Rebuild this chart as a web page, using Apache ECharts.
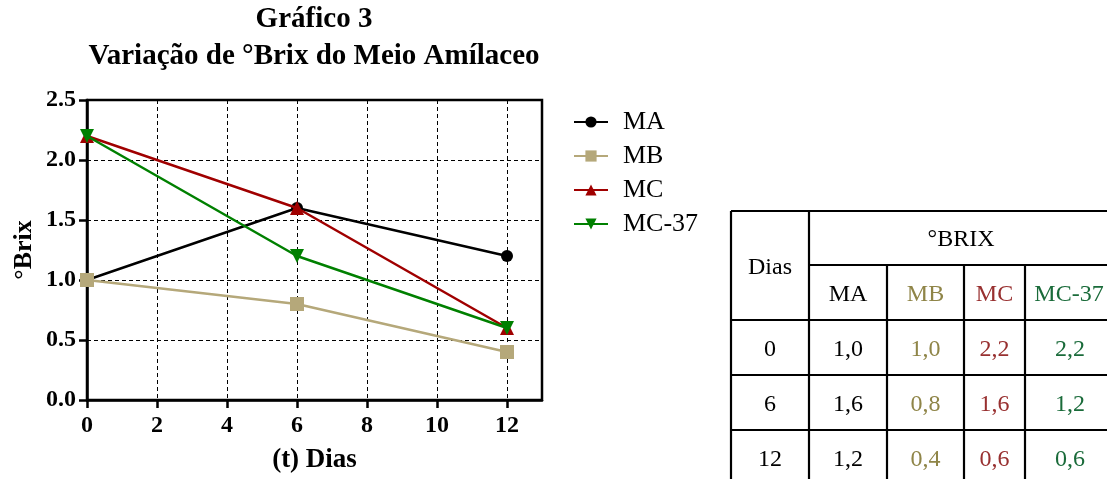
<!DOCTYPE html>
<html><head><meta charset="utf-8">
<script src="https://cdn.jsdelivr.net/npm/echarts@6/dist/echarts.min.js"></script>
<style>html,body{margin:0;padding:0;background:#fff}#c{width:1107px;height:479px}</style>
</head><body><div id="c"></div>
<script>
const dias = [0, 6, 12];
const MA = [1.0, 1.6, 1.2];
const MB = [1.0, 0.8, 0.4];
const MC = [2.2, 1.6, 0.6];
const MC37 = [2.2, 1.2, 0.6];
const seriesNames = ['MA', 'MB', 'MC', 'MC-37'];
const xTicks = [0, 2, 4, 6, 8, 10, 12];

const lineColors = ['#000000', '#b5a87a', '#a00000', '#008000'];
const tableColors = ['#000000', '#8f8548', '#983030', '#1a6b3a'];
const symbols = ['circle', 'rect', 'triangle', 'triangle'];
const rotates = [0, 0, 0, 180];
const values = [MA, MB, MC, MC37];
const FONT = '"Liberation Serif", "Times New Roman", serif';

const chart = echarts.init(document.getElementById('c'));

const series = seriesNames.map((n, i) => ({
  name: n, type: 'line',
  data: dias.map((d, j) => [d, values[i][j]]),
  symbol: symbols[i], symbolRotate: rotates[i], symbolSize: i === 0 ? 12 : 14,
  lineStyle: { color: lineColors[i], width: 2.5 },
  itemStyle: { color: lineColors[i] },
  z: 3 + i
}));

// Table built from data arrays
const T = { colX: [731, 809, 887, 964, 1025, 1116], rowY: [211, 265, 320, 375, 430, 485] };
const g = [];
const lw = 2.2;
function line(x1, y1, x2, y2) {
  g.push({ type: 'line', shape: { x1, y1, x2, y2 }, style: { stroke: '#000', lineWidth: lw } });
}
function txt(t, cx, cy, color) {
  g.push({ type: 'text', x: cx, y: cy, style: { text: t, fill: color, font: '24px ' + FONT, textAlign: 'center', textVerticalAlign: 'middle' } });
}
line(T.colX[0], T.rowY[0], T.colX[5], T.rowY[0]);
line(T.colX[1], T.rowY[1], T.colX[5], T.rowY[1]);
for (let r = 2; r <= 4; r++) line(T.colX[0], T.rowY[r], T.colX[5], T.rowY[r]);
line(T.colX[0], T.rowY[0], T.colX[0], T.rowY[5]);
line(T.colX[1], T.rowY[0], T.colX[1], T.rowY[5]);
for (let c = 2; c <= 4; c++) line(T.colX[c], T.rowY[1], T.colX[c], T.rowY[5]);
txt('Dias', (T.colX[0] + T.colX[1]) / 2, (T.rowY[0] + T.rowY[2]) / 2 + 2, '#000');
txt('°BRIX', 961, (T.rowY[0] + T.rowY[1]) / 2 + 2, '#000');
seriesNames.forEach((n, i) => {
  const cx = i === 3 ? 1069 : (T.colX[i + 1] + T.colX[i + 2]) / 2;
  txt(n, cx, (T.rowY[1] + T.rowY[2]) / 2 + 2, tableColors[i]);
});
dias.forEach((d, j) => {
  const cy = (T.rowY[j + 2] + T.rowY[j + 3]) / 2 + 2;
  txt(String(d), (T.colX[0] + T.colX[1]) / 2, cy, '#000');
  values.forEach((arr, i) => {
    const cx = i === 3 ? 1070 : (T.colX[i + 1] + T.colX[i + 2]) / 2;
    txt(arr[j].toFixed(1).replace('.', ','), cx, cy, tableColors[i]);
  });
});

chart.setOption({
  animation: false,
  backgroundColor: '#fff',
  title: {
    text: 'Gráfico 3\nVariação de °Brix do Meio Amílaceo',
    left: 314, top: 1, textAlign: 'center', padding: 0,
    textStyle: { fontFamily: FONT, fontWeight: 'bold', fontSize: 29, color: '#000', lineHeight: 37 }
  },
  legend: {
    orient: 'vertical', left: 573, top: 109, itemGap: 8, itemWidth: 34, itemHeight: 14, padding: 0,
    data: seriesNames,
    textStyle: { fontFamily: FONT, fontSize: 26, color: '#000', padding: [0, 0, 0, 10] }
  },
  grid: {
    left: 87, right: 565, top: 100, bottom: 79,
    show: true, borderColor: '#000', borderWidth: 2.5, backgroundColor: 'transparent'
  },
  xAxis: {
    type: 'value', min: 0, max: 13, interval: 2,
    name: '(t) Dias', nameLocation: 'middle', nameGap: 47,
    nameTextStyle: { fontFamily: FONT, fontWeight: 'bold', fontSize: 27, color: '#000' },
    axisLine: { show: true, lineStyle: { color: '#000', width: 2.5 } },
    axisTick: { show: true, length: 8, lineStyle: { color: '#000', width: 2.5 }, customValues: xTicks },
    axisLabel: { customValues: xTicks, fontFamily: FONT, fontWeight: 'bold', fontSize: 24, color: '#000', margin: 14 },
    splitLine: { show: true, lineStyle: { color: '#000', width: 1, type: [4, 3] } }
  },
  yAxis: {
    type: 'value', min: 0, max: 2.5, interval: 0.5,
    name: '°Brix', nameLocation: 'middle', nameGap: 50, nameRotate: 90,
    nameTextStyle: { fontFamily: FONT, fontWeight: 'bold', fontSize: 26, color: '#000' },
    axisLine: { show: true, lineStyle: { color: '#000', width: 2.5 } },
    axisTick: { show: true, length: 8, lineStyle: { color: '#000', width: 2.5 } },
    axisLabel: { fontFamily: FONT, fontWeight: 'bold', fontSize: 24, color: '#000', margin: 11, formatter: v => v.toFixed(1) },
    splitLine: { show: true, lineStyle: { color: '#000', width: 1, type: [4, 3] } }
  },
  graphic: g,
  series
});
</script></body></html>
